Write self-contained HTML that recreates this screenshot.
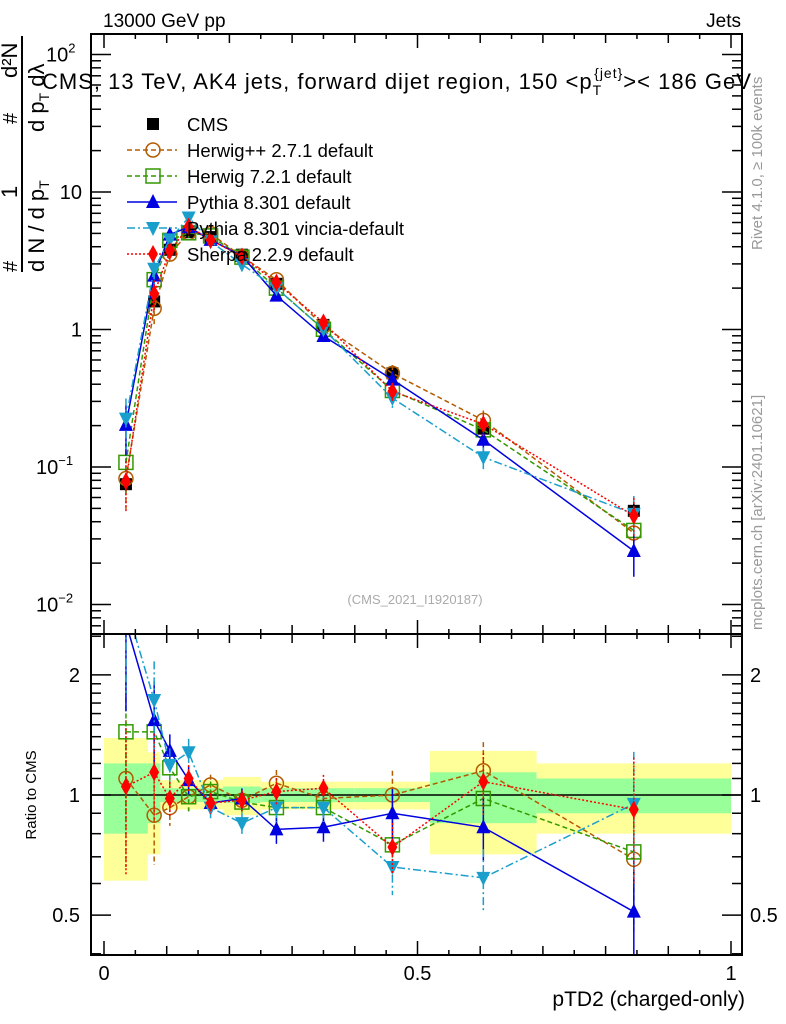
<!DOCTYPE html>
<html><head><meta charset="utf-8"><style>
body{margin:0;background:#fff;}
svg{display:block;font-family:"Liberation Sans",sans-serif;}
</style></head><body>
<svg id="chart" width="786" height="1024" viewBox="0 0 786 1024">
<text x="103" y="27" font-size="19">13000 GeV pp</text>
<text x="741" y="27" font-size="19" text-anchor="end">Jets</text>
<text x="415" y="604" font-size="13" fill="#aaa" text-anchor="middle">(CMS_2021_I1920187)</text>
<text transform="translate(762,250) rotate(-90)" font-size="15" fill="#999">Rivet 4.1.0, ≥ 100k events</text>
<text transform="translate(762,630) rotate(-90)" font-size="15" fill="#999">mcplots.cern.ch [arXiv:2401.10621]</text>
<g font-size="22">
<line x1="22" y1="36" x2="22" y2="272" stroke="#000" stroke-width="2"/>
<text transform="translate(17,272) rotate(-90)" font-size="20">#</text>
<text transform="translate(17,198) rotate(-90)">1</text>
<text transform="translate(17,124) rotate(-90)" font-size="20">#</text>
<text transform="translate(17,78) rotate(-90)">d²N</text>
<text transform="translate(44,272) rotate(-90)">d N / d p<tspan font-size="14" dy="5">T</tspan></text>
<text transform="translate(44,132) rotate(-90)">d p<tspan font-size="14" dy="5">T</tspan><tspan dy="-5"> dλ</tspan></text>
</g>
<text transform="translate(36,795) rotate(-90)" font-size="15" text-anchor="middle">Ratio to CMS</text>
<text x="745" y="1006" font-size="21" text-anchor="end">pTD2 (charged-only)</text>
<text x="42" y="89" font-size="22" letter-spacing="1">CMS, 13 TeV, AK4 jets, forward dijet region, 150 &lt;p<tspan font-size="14" dy="6">T</tspan><tspan font-size="14" dx="-8" dy="-17">{jet}</tspan><tspan dy="11">&gt;&lt; 186 GeV</tspan></text>
<g id="plots"></g>
</svg>
<script>
const edges=[0,0.07,0.09,0.12,0.15,0.19,0.25,0.3,0.4,0.52,0.69,1.0];
const xs=[0.035,0.08,0.105,0.135,0.17,0.22,0.275,0.35,0.46,0.605,0.845];
const cms=[0.075,1.6,3.8,5.1,4.7,3.5,2.15,1.08,0.48,0.19,0.048];
const cmsErr=[0.08,0.05,0.04,0.04,0.04,0.04,0.04,0.05,0.06,0.1,0.15];
const statUp=[1.20,1.20,1.04,1.04,1.04,1.05,1.04,1.04,1.04,1.14,1.10];
const statDn=[0.80,0.85,0.96,0.96,0.96,0.955,0.96,0.96,0.96,0.85,0.90];
const totUp=[1.39,1.28,1.09,1.09,1.09,1.11,1.08,1.08,1.08,1.29,1.20];
const totDn=[0.61,0.71,0.92,0.92,0.92,0.89,0.92,0.92,0.92,0.71,0.80];
const rHpp=[1.10,0.89,0.93,0.99,1.06,0.97,1.07,0.98,1.0,1.15,0.69];
const rH7=[1.44,1.44,1.17,0.99,1.02,0.96,0.93,0.93,0.75,0.98,0.72];
const rPy=[2.7,1.54,1.29,1.09,0.955,0.98,0.82,0.83,0.9,0.83,0.51];
const rVin=[3.0,1.73,1.19,1.28,0.93,0.85,0.93,0.93,0.66,0.62,0.95];
const rSh=[1.05,1.14,0.98,1.10,0.955,0.97,1.02,1.04,0.74,1.08,0.92];
const modErr=[0.4,0.25,0.1,0.08,0.06,0.06,0.08,0.08,0.15,0.18,0.35];

const NS="http://www.w3.org/2000/svg";
const X=v=>104+627*v;
const YM=v=>329.5-137.5*Math.log10(v);
const YR=r=>795-399*Math.log10(r);
const g=document.getElementById('plots');
function el(t,a,p){const e=document.createElementNS(NS,t);for(const k in a)e.setAttribute(k,a[k]);(p||g).appendChild(e);return e;}
const LX=91,RX=742,TM=34,BM=634,BR=955;
const defs=el('defs',{});
const c1=el('clipPath',{id:'cm'},defs);el('rect',{x:LX,y:TM,width:RX-LX,height:BM-TM},c1);
const c2=el('clipPath',{id:'cr'},defs);el('rect',{x:LX,y:BM,width:RX-LX,height:BR-BM},c2);
const bands=el('g',{'clip-path':'url(#cr)'});

for(let i=0;i<xs.length;i++){
 const b1=el('rect',{x:X(edges[i]),width:X(edges[i+1])-X(edges[i]),y:YR(totUp[i]),height:YR(totDn[i])-YR(totUp[i]),fill:'#ffff99'},bands);
 
 const b2=el('rect',{x:X(edges[i]),width:X(edges[i+1])-X(edges[i]),y:YR(statUp[i]),height:YR(statDn[i])-YR(statUp[i]),fill:'#99ff99'},bands);
 
}
el('line',{x1:LX,x2:RX,y1:YR(1),y2:YR(1),stroke:'#000','stroke-width':1.5});
function marker(p,type,x,y,col){
 const s=7;
 if(type=='sq')return el('rect',{x:x-s,y:y-s,width:2*s,height:2*s,fill:'none',stroke:col,'stroke-width':1.5},p);
 if(type=='fsq')return el('rect',{x:x-6,y:y-6,width:12,height:12,fill:col},p);
 if(type=='circ')return el('circle',{cx:x,cy:y,r:7,fill:'none',stroke:col,'stroke-width':1.5},p);
 if(type=='up')return el('polygon',{points:`${x},${y-8} ${x-7},${y+6} ${x+7},${y+6}`,fill:col},p);
 if(type=='dn')return el('polygon',{points:`${x},${y+8} ${x-7},${y-6} ${x+7},${y-6}`,fill:col},p);
 if(type=='dia')return el('polygon',{points:`${x},${y-9} ${x-5},${y} ${x},${y+9} ${x+5},${y}`,fill:col},p);
}
const models=[
 {n:'herwigpp',r:rHpp,c:'#b35b00',d:'5,3',m:'circ',label:'Herwig++ 2.7.1 default'},
 {n:'herwig7',r:rH7,c:'#339900',d:'5,3',m:'sq',label:'Herwig 7.2.1 default'},
 {n:'pythia',r:rPy,c:'#0000e0',d:'',m:'up',label:'Pythia 8.301 default'},
 {n:'vincia',r:rVin,c:'#1a9fcc',d:'8,3,2,3',m:'dn',label:'Pythia 8.301 vincia-default'},
 {n:'sherpa',r:rSh,c:'#ff0000',d:'2,2',m:'dia',label:'Sherpa 2.2.9 default'}];
const cg=el('g',{'clip-path':'url(#cm)'});

for(let i=0;i<xs.length;i++){
 el('line',{x1:X(xs[i]),x2:X(xs[i]),y1:YM(cms[i]*(1+cmsErr[i])),y2:YM(cms[i]*(1-cmsErr[i])),stroke:'#000','stroke-width':1.5},cg);
 const mk=marker(cg,'fsq',X(xs[i]),YM(cms[i]),'#000');
 
}
for(const m of models){
 for(const [clip,Yf,vals] of [['cm',YM,cms.map((v,i)=>v*m.r[i])],['cr',YR,m.r.slice()]]){
  const gg=el('g',{'clip-path':`url(#${clip})`});
  
  const pts=xs.map((x,i)=>X(x)+','+Yf(vals[i])).join(' ');
  el('polyline',{points:pts,fill:'none',stroke:m.c,'stroke-width':1.5,'stroke-dasharray':m.d},gg);
  for(let i=0;i<xs.length;i++){
   el('line',{x1:X(xs[i]),x2:X(xs[i]),y1:Yf(vals[i]*(1+modErr[i])),y2:Yf(vals[i]*(1-modErr[i])),stroke:m.c,'stroke-width':1.5,'stroke-dasharray':m.d},gg);
   const mk=marker(gg,m.m,X(xs[i]),Yf(vals[i]),m.c);
   
  }
 }
}
el('rect',{x:LX,y:TM,width:RX-LX,height:BM-TM,fill:'none',stroke:'#000','stroke-width':2});
el('rect',{x:LX,y:BM,width:RX-LX,height:BR-BM,fill:'none',stroke:'#000','stroke-width':2});
for(let k=0;k<=20;k++){const v=k*0.05,x=X(v),L=k%10==0?14:(k%2==0?9:5);
 for(const [yb,ya] of [[TM,1],[BM,-1],[BM,1],[BR,-1]])el('line',{x1:x,x2:x,y1:yb,y2:yb+ya*L,stroke:'#000','stroke-width':1.5});}
const xl=[0,0.5,1],xlt=['0','0.5','1'];
xl.forEach((v,i)=>{const t=el('text',{x:X(v),y:980,'font-size':20,'text-anchor':'middle'});t.textContent=xlt[i];});
for(let d=-3;d<=2;d++){for(let k=1;k<10;k++){const v=k*Math.pow(10,d),y=YM(v);if(y<TM||y>BM)continue;const L=k==1?20:10;
 el('line',{x1:LX,x2:LX+L,y1:y,y2:y,stroke:'#000','stroke-width':1.5});el('line',{x1:RX,x2:RX-L,y1:y,y2:y,stroke:'#000','stroke-width':1.5});}}
const yv=[100,10,1,0.1,0.01],yt=[['10','2'],['10',''],['1',''],['10','−1'],['10','−2']];
yv.forEach((v,i)=>{const t=el('text',{x:82,y:YM(v)+7,'font-size':20,'text-anchor':'end'});t.textContent=yt[i][0];
 if(yt[i][1]){const s=el('tspan',{'font-size':13,dy:-9},t);s.textContent=yt[i][1];t.setAttribute('text-anchor','start');t.setAttribute('x',yt[i][1].length>1?36:46);}
 });
const rt=[0.4,0.5,0.6,0.7,0.8,0.9,1,1.1,1.2,1.3,1.4,1.5,1.6,1.7,1.8,1.9,2,2.5];
rt.forEach(v=>{const y=YR(v);if(y<BM||y>BR)return;const L=(v==0.5||v==1||v==2)?20:10;
 el('line',{x1:LX,x2:LX+L,y1:y,y2:y,stroke:'#000','stroke-width':1.5});el('line',{x1:RX,x2:RX-L,y1:y,y2:y,stroke:'#000','stroke-width':1.5});});
const rl=[2,1,0.5],rlt=['2','1','0.5'];
rl.forEach((v,i)=>{for(const [x,a] of [[80,'end'],[750,'start']]){const t=el('text',{x:x,y:YR(v)+7,'font-size':20,'text-anchor':a});t.textContent=rlt[i];}});
const lg=el('g',{});
const e0=el('g',{},lg);
marker(e0,'fsq',153,124,'#000');const t0=el('text',{x:187,y:131,'font-size':18.5},e0);t0.textContent='CMS';
models.forEach((m,i)=>{const y=150+26*i;const e=el('g',{},lg);
 el('line',{x1:127,x2:177,y1:y,y2:y,stroke:m.c,'stroke-width':1.5,'stroke-dasharray':m.d},e);
 marker(e,m.m,153,y,m.c);const t=el('text',{x:187,y:y+7,'font-size':18.5},e);t.textContent=m.label;});
</script>
</body></html>
